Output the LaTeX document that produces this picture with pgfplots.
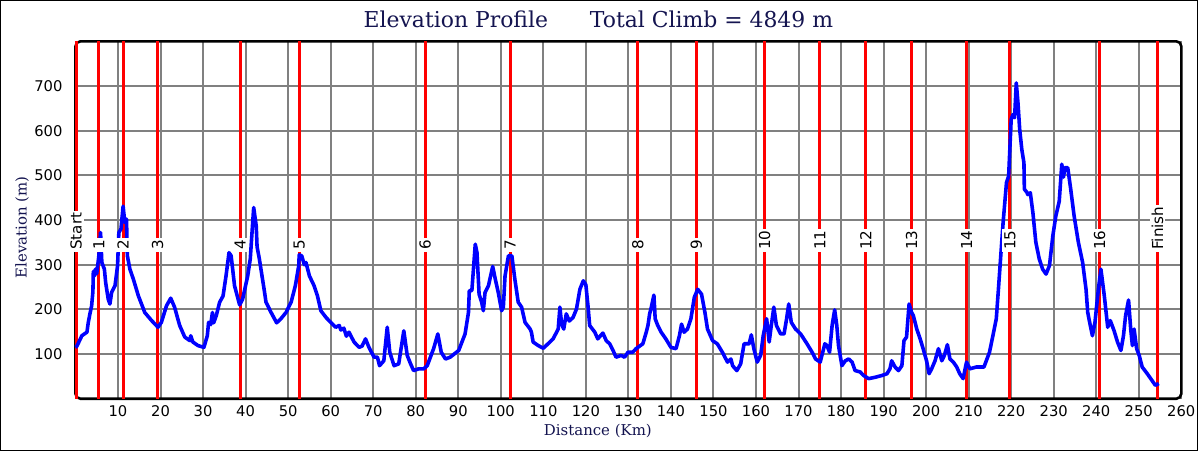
\documentclass[border=0pt]{standalone}
\usepackage{pgfplots}
\pgfplotsset{compat=1.18}
\usepackage{pgfplotstable}
\usepackage{fontspec}
\setmainfont{DejaVu Sans}
\newfontfamily\slab{DejaVu Serif}
\definecolor{navy}{RGB}{20,20,80}
\definecolor{gridgray}{RGB}{128,128,128}

\pgfplotstableread{
km elev
0.0 115
0.3 117
1.5 141
2.7 149
3.0 170
3.4 190
3.8 208
4.1 240
4.2 285
4.5 275
4.7 290
5.0 280
5.5 320
5.9 372
6.2 305
6.8 290
7.1 260
7.7 223
8.1 212
8.5 238
9.3 253
9.9 298
10.2 372
10.7 380
11.2 431
11.6 395
12.0 402
12.2 320
12.8 290
13.6 268
14.8 230
16.3 193
17.9 175
19.4 160
20.2 171
21.4 208
22.4 225
23.3 205
24.5 164
25.7 138
26.9 130
27.1 141
27.6 127
28.8 119
30.2 115
31.0 141
31.3 171
31.8 166
32.2 193
32.5 170
33.1 186
33.9 216
34.7 230
35.4 275
36.1 327
36.6 320
37.4 253
38.6 210
39.3 223
40.5 275
41.1 313
41.9 428
42.5 387
42.7 340
43.2 315
44.4 242
44.8 216
46.0 193
47.3 170
48.3 179
49.5 193
50.7 216
51.7 253
52.5 298
52.6 322
53.2 320
53.8 300
54.2 305
55.0 275
56.1 253
56.9 230
57.7 197
58.9 182
60.0 171
61.2 160
62.0 164
62.4 154
63.1 158
63.7 140
64.3 149
65.5 127
66.7 115
67.4 118
68.2 134
69.0 115
70.2 93
71.0 93
71.5 74
72.5 85
73.3 160
73.9 104
74.9 74
76.0 78
77.2 152
78.0 97
78.8 78
79.5 63
80.7 67
81.9 67
82.7 74
84.2 112
85.2 145
86.0 104
87.0 89
88.1 93
90.1 108
91.6 145
92.4 193
92.6 242
93.2 242
94.0 346
94.4 327
94.9 234
95.5 216
95.9 197
96.3 238
97.1 253
98.1 296
98.7 268
99.4 238
100.2 197
100.6 205
101.0 275
101.8 320
102.6 320
103.3 268
104.1 216
104.9 205
105.7 171
106.9 156
107.2 149
107.6 127
108.8 119
110.0 113
111.1 123
112.3 134
113.5 156
113.9 205
114.3 167
114.8 156
115.4 190
116.1 174
117.0 182
117.8 201
118.6 245
119.4 264
120.0 255
120.5 208
120.9 164
122.1 149
122.8 134
124.0 147
124.8 130
125.6 123
126.4 108
127.1 93
128.3 97
129.1 93
129.9 104
131.0 104
131.8 112
133.4 123
134.2 149
134.6 164
135.0 190
135.3 201
136.0 232
136.3 179
136.9 164
137.7 149
138.8 134
140.0 115
141.2 112
142.0 141
142.5 167
143.1 149
143.9 156
144.7 179
145.5 227
146.3 245
147.2 234
148.0 193
148.6 156
149.8 130
150.9 123
152.1 104
153.3 82
154.1 89
154.5 74
155.5 63
156.4 78
157.2 123
158.4 123
158.9 143
159.5 112
160.3 82
161.1 97
161.7 141
162.5 179
163.1 127
163.6 164
164.2 205
164.8 164
165.8 145
166.6 145
167.2 179
167.7 212
168.3 171
169.3 156
170.5 145
172.0 123
173.2 104
174.0 89
175.1 82
176.2 123
176.7 119
177.3 104
177.9 164
178.5 199
179.0 164
179.4 119
180.2 74
181.0 85
181.8 89
182.6 82
183.3 63
184.5 60
185.3 52
186.5 45
188.0 48
189.6 52
190.8 56
191.5 67
191.9 85
192.7 71
193.5 63
194.3 74
194.8 130
195.4 138
196.0 212
196.6 193
197.0 186
197.8 156
198.6 134
199.3 112
200.1 85
200.7 56
201.3 67
202.1 85
202.9 112
203.7 85
204.3 97
205.0 121
205.6 89
206.4 82
207.2 71
207.9 56
208.7 45
209.5 82
210.3 67
211.8 71
213.6 71
214.9 104
215.7 141
216.5 179
217.0 245
217.7 340
218.1 394
218.9 484
219.4 498
220.0 625
220.4 636
220.8 629
221.2 707
221.6 662
222.0 603
222.5 558
223.0 528
223.1 469
223.7 462
223.9 457
224.5 461
225.1 417
225.8 350
226.6 313
227.4 290
228.2 279
229.0 298
229.8 365
230.5 409
231.3 442
231.9 525
232.3 496
232.6 517
233.3 517
234.0 469
234.8 409
235.8 350
236.8 305
237.6 245
238.0 193
238.6 164
239.1 141
239.7 171
240.5 245
241.1 290
241.9 230
242.7 160
243.3 175
244.2 152
245.0 127
245.8 108
246.4 141
246.9 186
247.6 221
248.1 156
248.5 119
248.9 156
249.5 112
250.1 97
250.8 71
252.0 56
253.1 41
253.9 30
254.7 34
}\profile

\pgfplotstableread{
km label
0.15 Start
5.5 1
11.2 2
19.3 3
38.7 4
52.6 5
82.2 6
102.2 7
132.2 8
146.0 9
162.0 10
175.0 11
185.8 12
196.6 13
209.5 14
219.7 15
240.8 16
254.4 Finish
}\checkpoints

\begin{document}
\begin{tikzpicture}[x=1pt,y=1pt]
\draw[line width=0.5pt] (-37.65,-26) rectangle (563.35,200);
\node[font=\slab\fontsize{11}{13}\selectfont, text=navy] at (262.6,190.5) {Elevation Profile\hspace{21pt}Total Climb = 4849 m};
\begin{axis}[
  at={(0,0)}, anchor=south west,
  scale only axis, width=555.35pt, height=179.5pt,
  xmin=0, xmax=260, ymin=0, ymax=800,
  xtick={10,20,...,260}, ytick={100,200,...,700},
  grid=major, major grid style={gridgray, line width=1pt},
  major tick length=0pt,
  axis line style={draw=none},
  clip=false,
  tick label style={font=\fontsize{7.4}{8}\selectfont},
  yticklabel style={xshift=-3pt},
  /pgf/number format/assume math mode=true,
  xlabel={Distance (Km)}, ylabel={Elevation (m)},
  label style={font=\slab\fontsize{7.5}{9}\selectfont, text=navy},
  xlabel style={at={(axis description cs:0.4724,-0.089)}, anchor=center},
  ylabel style={at={(axis description cs:-0.0483,0.479)}, anchor=center},
]
\draw[line width=1.3pt, rounded corners=2.5pt] (rel axis cs:0,0) rectangle (rel axis cs:1,1);
\addplot[ycomb, red, line width=1.5pt, mark=none] table[x=km, y expr=800] {\checkpoints};
\addplot[blue, line width=1.8pt, line join=round, mark=none] table[x=km, y=elev] {\profile};
\addplot[draw=none, mark=none, nodes near coords, point meta=explicit symbolic,
  nodes near coords style={rotate=90, anchor=west, fill=white, inner sep=1pt, text=black, font=\fontsize{7.6}{8}\selectfont}]
  table[x=km, y expr=328, meta=label] {\checkpoints};
\end{axis}
\end{tikzpicture}
\end{document}
